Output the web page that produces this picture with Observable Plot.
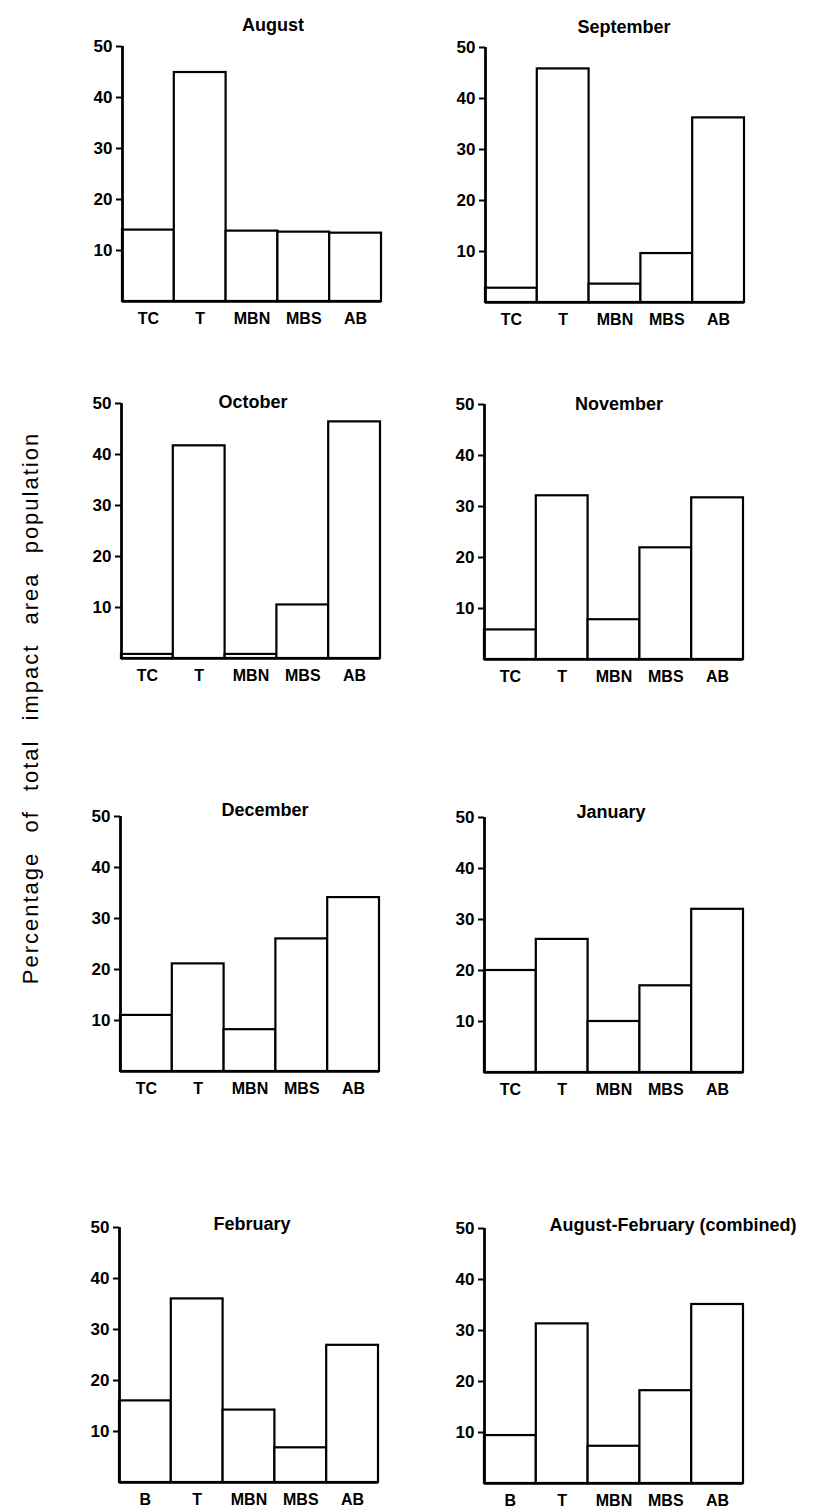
<!DOCTYPE html>
<html><head><meta charset="utf-8">
<script src="https://cdn.jsdelivr.net/npm/d3@7"></script>
<script src="https://cdn.jsdelivr.net/npm/@observablehq/plot@0.6"></script>
<style>
html,body{margin:0;padding:0;background:#fff;overflow:hidden}
#root{position:relative;width:836px;height:1512px;background:#fff}
.panel{position:absolute}
.panel svg{overflow:visible}
#ylab{position:absolute;left:31px;top:708px;transform:translate(-50%,-50%) rotate(-90deg);white-space:nowrap;font:22px "Liberation Sans",Arial,sans-serif;letter-spacing:2px;word-spacing:11px;color:#000}
</style></head><body>
<div id="root"></div>
<script>
// ---- data ----
const titles = ["August","September","October","November","December","January","February","August-February (combined)"];
const catsMonthly = ["TC","T","MBN","MBS","AB"];
const catsLate = ["B","T","MBN","MBS","AB"];
const augustVals   = [14.0, 44.9, 13.8, 13.6, 13.4];
const septemberVals= [2.8, 45.8, 3.6, 9.6, 36.2];
const octoberVals  = [0.8, 41.7, 0.8, 10.5, 46.4];
const novemberVals = [5.8, 32.1, 7.8, 21.9, 31.7];
const decemberVals = [11.0, 21.1, 8.2, 26.0, 34.1];
const januaryVals  = [20.0, 26.1, 10.0, 17.0, 32.0];
const februaryVals = [16.0, 36.0, 14.2, 6.8, 26.9];
const combinedVals = [9.4, 31.3, 7.3, 18.2, 35.1];
const yTicks = [10, 20, 30, 40, 50];
const yLabel = "Percentage of total impact area population";

const panelCats = [catsMonthly, catsMonthly, catsMonthly, catsMonthly, catsMonthly, catsMonthly, catsLate, catsLate];
const panelVals = [augustVals, septemberVals, octoberVals, novemberVals, decemberVals, januaryVals, februaryVals, combinedVals];

// ---- layout (frame positions in page px) ----
const layout = [
  {left:122, top:46,   tdx:21, tdy:-28},
  {left:485, top:47,   tdx:9,  tdy:-27},
  {left:121, top:403,  tdx:2,  tdy:-8},
  {left:484, top:404,  tdx:5,  tdy:-7},
  {left:120, top:816,  tdx:15, tdy:-13},
  {left:484, top:817,  tdx:-3, tdy:-12},
  {left:119, top:1227, tdx:3,  tdy:-10},
  {left:484, top:1228, tdx:59, tdy:-10}
];
const FW = 259, FH = 255, ML = 50, MR = 90, MT = 40, MB = 32;
const FONT = '"Liberation Sans", Arial, sans-serif';

const root = document.getElementById("root");
const yl = document.createElement("div");
yl.id = "ylab"; yl.textContent = yLabel; root.appendChild(yl);

titles.forEach((title, p) => {
  const cats = panelCats[p], vals = panelVals[p], L = layout[p];
  const data = cats.map((c, i) => ({i, cat: c, v: vals[i]}));
  const chart = Plot.plot({
    width: ML + FW + MR, height: MT + FH + MB,
    marginLeft: ML, marginRight: MR, marginTop: MT, marginBottom: MB,
    style: {background: "transparent", fontFamily: FONT, color: "#000", overflow: "visible"},
    x: {domain: [0, cats.length], axis: null},
    y: {domain: [0, 50], axis: null},
    marks: [
      Plot.rect(data, {x1: "i", x2: d => d.i + 1, y1: 0, y2: "v", fill: "white", stroke: "black", strokeWidth: 2.2}),
      Plot.ruleY([0], {stroke: "black", strokeWidth: 2.6}),
      Plot.ruleX([0], {y1: 0, y2: 50, stroke: "black", strokeWidth: 2.8}),
      Plot.axisY(yTicks, {label: null, tickSize: 6, tickPadding: 4, strokeWidth: 2, fontSize: 17, fontWeight: "bold", fill: "black", stroke: "black"}),
      Plot.text(data, {x: d => d.i + 0.5, text: "cat", frameAnchor: "bottom", dy: 22, fontSize: 16, fontWeight: "bold", fill: "black", style: "letter-spacing:1px"}),
      Plot.text([title], {frameAnchor: "top", dx: L.tdx, dy: L.tdy, fontSize: 18, fontWeight: "bold", fill: "black", style: "letter-spacing:0.5px"})
    ]
  });
  const wrap = document.createElement("div");
  wrap.className = "panel";
  wrap.style.left = (L.left - ML) + "px";
  wrap.style.top = (L.top - MT) + "px";
  wrap.appendChild(chart);
  root.appendChild(wrap);
});
</script>
</body></html>
